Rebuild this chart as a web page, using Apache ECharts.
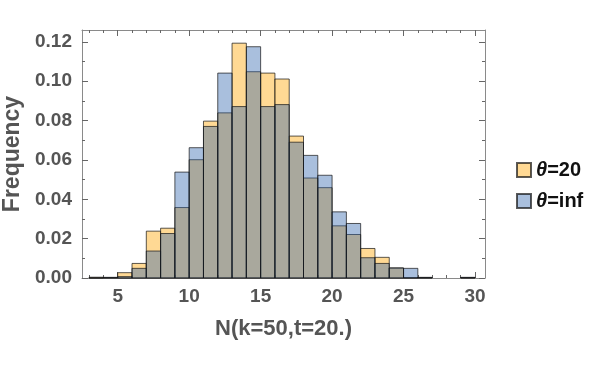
<!DOCTYPE html>
<html>
<head>
<meta charset="utf-8">
<script src="https://cdn.jsdelivr.net/npm/echarts@6/dist/echarts.min.js"></script>
<style>html,body{margin:0;padding:0;background:#fff}#c{width:600px;height:370px}</style>
</head>
<body>
<div id="c"></div>
<script>
// Histogram bins: [start, start+1)
const binStarts = [3,4,5,6,7,8,9,10,11,12,13,14,15,16,17,18,19,20,21,22,23,24,25,26,27,28,29];
const theta20 = [0.0004,0.0003,0.0027,0.0074,0.0238,0.0253,0.0358,0.0601,0.0797,0.0839,0.1193,0.1048,0.1041,0.1011,0.0721,0.0508,0.0459,0.0265,0.0221,0.0150,0.0105,0.0051,0.0002,0.0003,0,0,0.0003];
const thetaInf = [0.0001,0.0003,0.0007,0.0049,0.0137,0.0226,0.0538,0.0662,0.0770,0.1041,0.0871,0.1175,0.0871,0.0881,0.0690,0.0623,0.0522,0.0336,0.0277,0.0103,0.0074,0.0051,0.0049,0.0003,0,0,0.0003];
const xTickLabels = [5,10,15,20,25,30];
const yTickLabels = [0,0.02,0.04,0.06,0.08,0.10,0.12];
const seriesNames = ['θ=20','θ=inf'];

const xMinor = []; for (let v = 3; v <= 30; v++) if (xTickLabels.indexOf(v) < 0) xMinor.push(v);
const yMinor = [0.01,0.03,0.05,0.07,0.09,0.11];

const frameColor = '#8a8a8a';
const labelColor = '#555';
const FONT = 'Liberation Sans, Arial';
const X_MIN = 2.5, X_MAX = 30.7, Y_MIN = 0, Y_MAX = 0.126;

function xAx(pos, ticks, len, showLabels, showLine) {
  return {
    type: 'value', position: pos, min: X_MIN, max: X_MAX,
    axisLine: {show: showLine, onZero: false, lineStyle: {color: frameColor, width: 1}},
    axisTick: {show: true, inside: true, length: len, customValues: ticks, lineStyle: {color: '#666'}},
    axisLabel: {show: showLabels, customValues: ticks, color: labelColor, fontSize: 19, fontWeight: 'bold', fontFamily: FONT, margin: 9},
    splitLine: {show: false}
  };
}
function yAx(pos, ticks, len, showLabels, showLine) {
  return {
    type: 'value', position: pos, min: Y_MIN, max: Y_MAX,
    axisLine: {show: showLine, onZero: false, lineStyle: {color: frameColor, width: 1}},
    axisTick: {show: true, inside: true, length: len, customValues: ticks, lineStyle: {color: '#666'}},
    axisLabel: {show: showLabels, customValues: ticks, color: labelColor, fontSize: 19, fontWeight: 'bold', fontFamily: FONT, margin: 10,
      formatter: v => Number(v).toFixed(2)},
    splitLine: {show: false}
  };
}

const xAxes = [
  xAx('bottom', xTickLabels, 6, true, true),
  xAx('bottom', xMinor, 3, false, false),
  xAx('top', xTickLabels, 6, false, true),
  xAx('top', xMinor, 3, false, false)
];
xAxes[0].name = 'N(k=50,t=20.)';
xAxes[0].nameLocation = 'middle';
xAxes[0].nameGap = 40;
xAxes[0].nameTextStyle = {color: labelColor, fontSize: 22, fontWeight: 'bold', fontFamily: FONT};

const yAxes = [
  yAx('left', yTickLabels, 6, true, true),
  yAx('left', yMinor, 3, false, false),
  yAx('right', yTickLabels, 6, false, true),
  yAx('right', yMinor, 3, false, false)
];
yAxes[0].name = 'Frequency';
yAxes[0].nameLocation = 'middle';
yAxes[0].nameGap = 56;
yAxes[0].nameTextStyle = {color: labelColor, fontSize: 23, fontWeight: 'bold', fontFamily: FONT};

const fills = ['rgba(255,185,60,0.55)', 'rgba(40,95,170,0.4)'];
const edge = 'rgba(20,20,20,0.7)';

function makeSeries(name, values, fill) {
  return {
    name: name, type: 'custom', xAxisIndex: 0, yAxisIndex: 0,
    itemStyle: {color: fill, borderColor: edge, borderWidth: 1},
    data: binStarts.map((s, i) => [s, values[i]]),
    renderItem: function (params, api) {
      const x0 = api.value(0), v = api.value(1);
      if (!(v > 0)) return null;
      const p0 = api.coord([x0, 0]);
      const p1 = api.coord([x0 + 1, v]);
      return {
        type: 'rect',
        shape: {x: p0[0], y: p1[1], width: p1[0] - p0[0], height: p0[1] - p1[1]},
        style: {fill: fill, stroke: edge, lineWidth: 1}
      };
    }
  };
}

const chart = echarts.init(document.getElementById('c'), null, {renderer: 'canvas'});
chart.setOption({
  animation: false,
  backgroundColor: '#fff',
  grid: {left: 82, right: 115, top: 30, bottom: 92, containLabel: false, outerBoundsMode: 'none'},
  legend: {
    orient: 'vertical', left: 511, top: 155, itemGap: 11,
    icon: 'rect', itemWidth: 14, itemHeight: 14,
    data: seriesNames,
    formatter: function (n) { return '{i|θ}{b|' + n.slice(1) + '}'; },
    textStyle: {
      rich: {
        i: {fontSize: 20, fontWeight: 'bold', fontStyle: 'italic', color: '#111', fontFamily: FONT, lineHeight: 21},
        b: {fontSize: 20, fontWeight: 'bold', color: '#111', fontFamily: FONT, lineHeight: 21}
      }
    }
  },
  xAxis: xAxes,
  yAxis: yAxes,
  series: [
    makeSeries(seriesNames[0], theta20, fills[0]),
    makeSeries(seriesNames[1], thetaInf, fills[1])
  ]
});
</script>
</body>
</html>
